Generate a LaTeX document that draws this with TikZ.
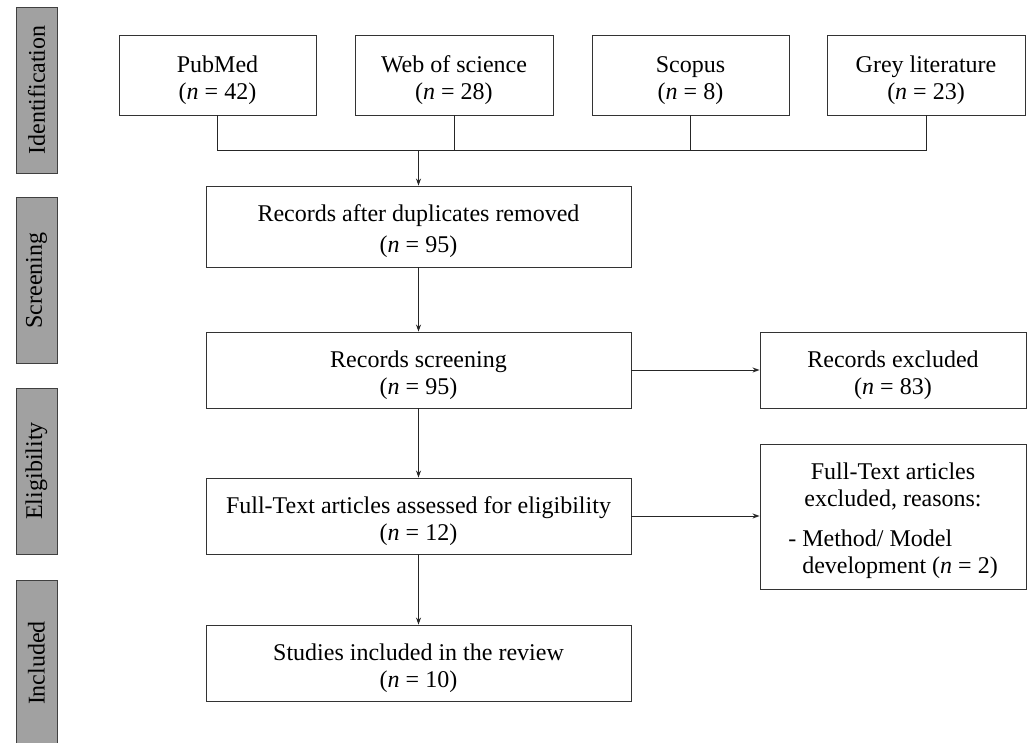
\documentclass[tikz,border=0pt]{standalone}
\usepackage{fontspec}
\setmainfont{Liberation Serif}
\usetikzlibrary{arrows.meta}
\newcommand{\lowtext}[2][5pt]{\raisebox{-#1}[\height][\depth]{#2}}
\tikzset{
  box/.style={draw=black!80, line width=0.9pt, fill=white, inner sep=0pt, align=center,
    font=\fontsize{24}{28}\selectfont, minimum height=76pt},
  phase/.style={draw=black!75, line width=1pt, fill=black!37, inner sep=0pt,
    minimum width=41pt, minimum height=166pt},
  phasetext/.style={rotate=90, font=\fontsize{24}{25}\selectfont},
  conn/.style={draw=black!85, line width=0.9pt},
  arr/.style={conn, -{Stealth[length=7pt,width=5pt]}},
}
\newcommand{\two}[2]{\lowtext{\begin{tabular}{@{}c@{}}#1\\[-1pt]#2\end{tabular}}}
\begin{document}
\begin{tikzpicture}[x=1pt,y=-1pt]
\useasboundingbox (0,0) rectangle (1028,742);
\begin{scope}
\clip (0,0) rectangle (1028,742);
% phase bars
\node[phase] (pid) at (36.5,90) {};
\node[phasetext] (tid) at (pid) {Identification};
\node[phase] (psc) at (36.5,280.5) {};
\node[phasetext] (tsc) at (psc) {Screening};
\node[phase] (pel) at (36.5,471) {};
\node[phasetext] (tel) at (pel) {Eligibility};
\node[phase] (pin) at (36.5,663) {};
\node[phasetext] (tin) at (pin) {Included};
\end{scope}
% sources
\node[box, minimum width=197pt, minimum height=80pt] (pub) at (217.5,75) {\two{PubMed}{(\textit{n} = 42)}};
\node[box, minimum width=198pt, minimum height=80pt] (wos) at (454,75) {\two{Web of science}{(\textit{n} = 28)}};
\node[box, minimum width=197pt, minimum height=80pt] (sco) at (690.5,75) {\two{Scopus}{(\textit{n} = 8)}};
\node[box, minimum width=198pt, minimum height=80pt] (grey) at (926,75) {\two{Grey literature}{(\textit{n} = 23)}};
% main column
\node[box, minimum width=425pt, minimum height=81pt] (dup) at (418.5,226.5) {\two{Records after duplicates removed}{\rule{0pt}{24pt}(\textit{n} = 95)}};
\node[box, minimum width=425pt] (scr) at (418.5,370) {\two{Records screening}{(\textit{n} = 95)}};
\node[box, minimum width=425pt] (full) at (418.5,516) {\two{Full-Text articles assessed for eligibility}{(\textit{n} = 12)}};
\node[box, minimum width=425pt] (stud) at (418.5,663) {\two{Studies included in the review}{(\textit{n} = 10)}};
% right column
\node[box, minimum width=266pt] (exc) at (893,370) {\two{Records excluded}{(\textit{n} = 83)}};
\node[box, minimum width=266pt, minimum height=145pt] (fexc) at (893,516.5) {%
  \lowtext[4pt]{\begin{tabular}{@{}l@{}}
  \multicolumn{1}{@{}c@{}}{Full-Text articles}\\[-1pt]
  \multicolumn{1}{@{}c@{}}{excluded, reasons:}\\[12pt]
  - Method/ Model\\[-1pt]
  \phantom{- }development (\textit{n} = 2)
  \end{tabular}}};
% connectors
\coordinate (bus) at (418.5,150);
\draw[conn] (pub.south) |- (bus);
\draw[conn] (wos.south) |- (bus);
\draw[conn] (sco.south) |- (bus);
\draw[conn] (grey.south) |- (bus);
\draw[arr] (bus) -- (dup.north);
\draw[arr] (dup) -- (scr);
\draw[arr] (scr) -- (full);
\draw[arr] (full) -- (stud);
\draw[arr] (scr.east) -- (exc.west);
\draw[arr] (full.east) -- (full.east -| fexc.west);
\end{tikzpicture}
\end{document}
